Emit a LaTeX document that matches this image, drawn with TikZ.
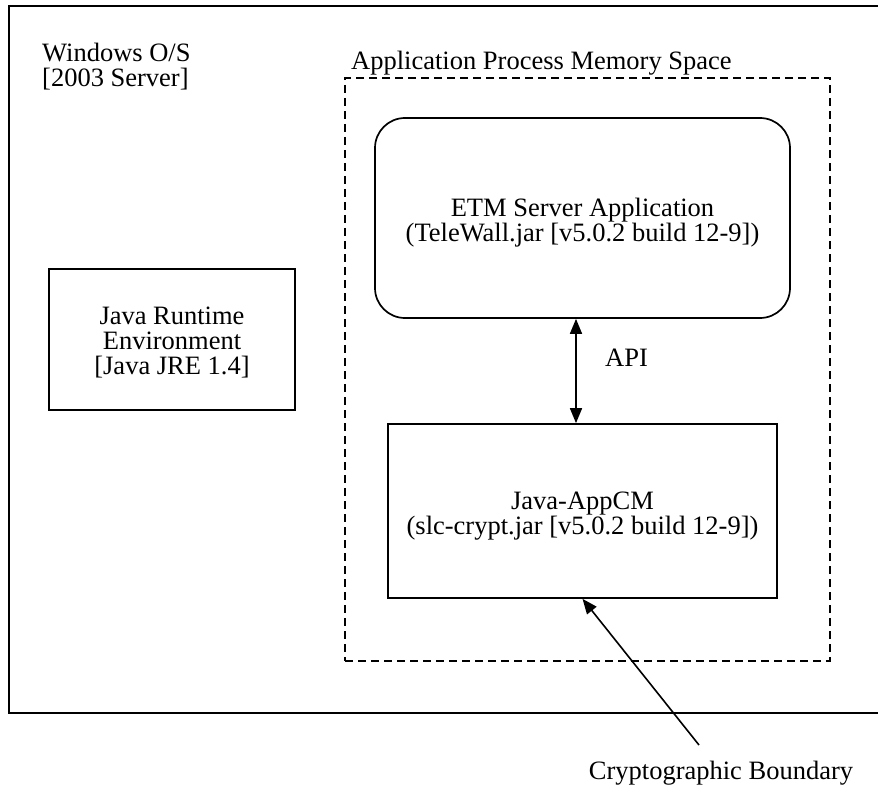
\documentclass[tikz,border=0pt]{standalone}
\usepackage{fontspec}
\setmainfont{Liberation Serif}
\usetikzlibrary{arrows.meta}
\begin{document}
\begin{tikzpicture}[x=1pt,y=-1pt,
  lbl/.style={font=\fontsize{26.5}{25}\selectfont, inner sep=0pt},
  txt/.style={lbl, align=center},
  box/.style={draw, line width=1.7pt, inner sep=0pt},
  conn/.style={line width=1.6pt, {Triangle[length=15pt,width=12pt]}-{Triangle[length=15pt,width=12pt]}},
  pointer/.style={line width=1.6pt, -{Triangle[length=15pt,width=12pt]}}
]
\useasboundingbox (0,0) rectangle (878,789);
\fill[white] (0,0) rectangle (878,789);
% outer OS box
\node[box, minimum width=871pt, minimum height=707pt] (os) at (444.5,359.5) {};
\node[lbl, anchor=north west, align=left] (win) at (42,43) {Windows O/S\\{[2003 Server]}};
% JRE
\node[box, minimum width=246pt, minimum height=141pt] (jre) at (172,339.5) {};
\node[txt] (jretxt) at (172,342.5) {Java Runtime\\Environment\\{[Java JRE 1.4]}};
% memory space
\node[box, dashed, dash pattern=on 8pt off 5pt, minimum width=485pt, minimum height=583pt] (mem) at (587.5,369.5) {};
\node[lbl, anchor=base west] (memlbl) at (351,70) {Application Process Memory Space};
% ETM
\node[box, rounded corners=30pt, minimum width=415pt, minimum height=200pt] (etm) at (582.5,218) {};
\node[txt] (etmtxt) at (582.5,223) {ETM Server Application\\(TeleWall.jar [v5.0.2 build 12-9])};
% AppCM
\node[box, minimum width=389pt, minimum height=174pt] (appcm) at (582.5,511) {};
\node[txt] (appcmtxt) at (582.5,516) {Java-AppCM\\(slc-crypt.jar [v5.0.2 build 12-9])};
% API
\coordinate (apix) at (576,0);
\draw[conn] (etm.south -| apix) -- (appcm.north -| apix);
\node[lbl, anchor=west] (api) at (605,358) {API};
% crypto boundary
\node[lbl] (cb) at (721,773) {Cryptographic Boundary};
\coordinate (cbstart) at (699,745);
\draw[pointer] (cbstart) -- (appcm.south);
\end{tikzpicture}
\end{document}
